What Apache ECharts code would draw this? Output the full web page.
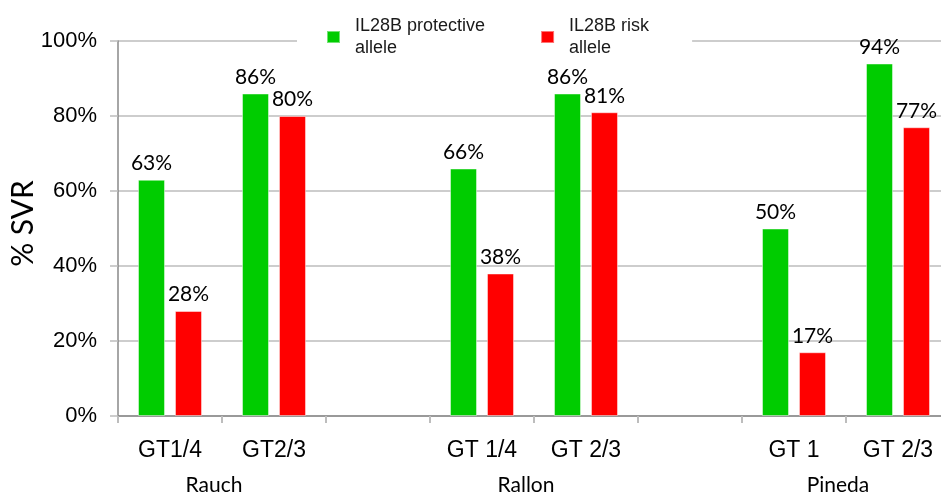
<!DOCTYPE html>
<html>
<head>
<meta charset="utf-8">
<script src="https://cdn.jsdelivr.net/npm/echarts@6/dist/echarts.min.js"></script>
<style>
  html, body { margin: 0; padding: 0; background: #fff; }
  #chart { width: 941px; height: 498px; }
</style>
</head>
<body>
<div id="chart"></div>
<script>
// Genotype categories along the x axis (empty slots separate the studies)
const categories = ['GT1/4', 'GT2/3', '', 'GT 1/4', 'GT 2/3', '', 'GT 1', 'GT 2/3'];
// Study names shown under each pair of genotypes, with their axis positions
const studyNames = ['Rauch', 'Rallon', 'Pineda'];
const studyPositions = [1, 4, 7];
// SVR rates (%) per allele group
const protectiveValues = [63, 86, null, 66, 86, null, 50, 94];
const riskValues = [28, 80, null, 38, 81, null, 17, 77];
const seriesNames = ['IL28B protective\nallele', 'IL28B risk\nallele'];
const yTicks = [0, 20, 40, 60, 80, 100];

const chart = echarts.init(document.getElementById('chart'));

const axisFont = "'Liberation Sans', Arial, sans-serif";
const labelFont = "Lato, Carlito, Calibri, sans-serif";

function barSeries(name, data, color) {
  return {
    name: name,
    type: 'bar',
    data: data,
    barWidth: 27,
    barGap: '37%',
    itemStyle: {
      color: color,
      borderColor: 'rgba(255,255,255,0.45)',
      borderWidth: 1
    },
    label: {
      show: true,
      position: 'top',
      distance: 6,
      formatter: p => p.value + '%',
      fontFamily: labelFont,
      fontSize: 21,
      color: '#000'
    }
  };
}

chart.setOption({
  animation: false,
  backgroundColor: '#fff',
  grid: {
    left: 118, right: -9, top: 41, bottom: 82,
    containLabel: false,
    outerBoundsMode: 'none'
  },
  legend: {
    left: 297,
    top: 8,
    padding: [7, 43, 7, 29],
    backgroundColor: '#fff',
    itemWidth: 13,
    itemHeight: 12,
    itemGap: 55,
    icon: 'rect',
    textStyle: {
      fontFamily: axisFont,
      fontSize: 18,
      lineHeight: 22,
      color: '#1a1a1a',
      padding: [0, 0, 0, 10]
    },
    data: seriesNames
  },
  xAxis: [
    {
      type: 'category',
      data: categories,
      axisLine: { lineStyle: { color: '#888888', width: 1.5 } },
      axisTick: { show: true, length: 7, lineStyle: { color: '#bdbdbd', width: 2 } },
      axisLabel: {
        fontFamily: axisFont,
        fontSize: 23,
        color: '#000',
        margin: 23,
        interval: 0
      }
    },
    {
      type: 'value',
      position: 'bottom',
      min: 0,
      max: 8,
      interval: 1,
      axisLine: { show: false },
      axisTick: { show: false },
      splitLine: { show: false },
      axisLabel: {
        fontFamily: labelFont,
        fontSize: 21,
        color: '#000',
        margin: 59,
        padding: [0, 16, 0, 0],
        formatter: v => {
          const i = studyPositions.indexOf(v);
          return i >= 0 ? studyNames[i] : '';
        }
      }
    }
  ],
  yAxis: {
    type: 'value',
    min: 0,
    max: 100,
    interval: 20,
    name: '% SVR',
    nameLocation: 'middle',
    nameGap: 80,
    nameRotate: 90,
    nameMoveOverlap: false,
    nameTextStyle: {
      fontFamily: labelFont,
      fontSize: 30,
      color: '#000',
      padding: [0, 0, 0, 10]
    },
    axisLine: { show: true, lineStyle: { color: '#888888', width: 1.5 } },
    axisTick: { show: true, length: 8, lineStyle: { color: '#bdbdbd', width: 1.5 } },
    axisLabel: {
      fontFamily: axisFont,
      fontSize: 22,
      color: '#000',
      margin: 21,
      formatter: v => yTicks.includes(v) ? v + '%' : ''
    },
    splitLine: { lineStyle: { color: '#bdbdbd', width: 1.5 } }
  },
  series: [
    barSeries(seriesNames[0], protectiveValues, '#00cc00'),
    barSeries(seriesNames[1], riskValues, '#ff0000')
  ]
});
</script>
</body>
</html>
